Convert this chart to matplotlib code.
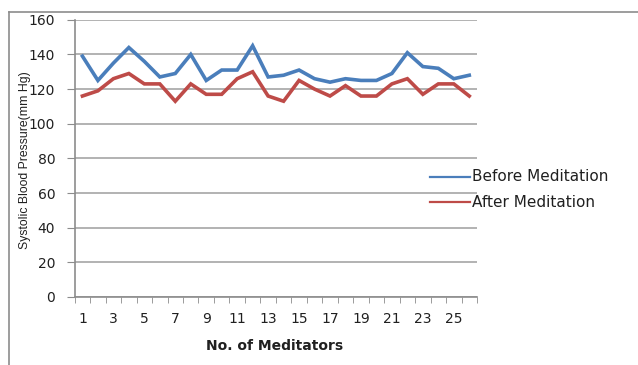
import numpy as np
import matplotlib
matplotlib.use('Agg')
import matplotlib.pyplot as plt
from matplotlib.lines import Line2D

# systolic readings per meditator
meditators = list(range(1, 27))
before = [139, 125, 135, 144, 136, 127, 129, 140, 125, 131, 131, 145, 127,
          128, 131, 126, 124, 126, 125, 125, 129, 141, 133, 132, 126, 128]
after = [116, 119, 126, 129, 123, 123, 113, 123, 117, 117, 126, 130, 116,
         113, 125, 120, 116, 122, 116, 116, 123, 126, 117, 123, 123, 116]
yticks = [0, 20, 40, 60, 80, 100, 120, 140, 160]
xlabels = [str(n) for n in meditators[::2]]

fig = plt.figure(figsize=(6.38, 3.65), dpi=100)
ax = fig.add_axes([74.7/638, 68/365, (477-74.7)/638, (297-19.8)/365])

ax.plot(meditators, before, color='#4a7ebb', lw=2.6, solid_joinstyle='miter')
ax.plot(meditators, after, color='#be4b48', lw=2.6, solid_joinstyle='miter')

ax.set_ylim(0, 160)
ax.set_yticks(yticks)
ax.set_xlim(0.5, 26.5)
ax.set_xticks(meditators[::2])
ax.set_xticklabels(xlabels)
ax.set_xticks(np.arange(0.5, 27, 1), minor=True)
ax.tick_params(axis='x', which='major', length=0, pad=11, labelsize=10, labelcolor='#202020')
ax.tick_params(axis='x', which='minor', length=4, color='#8c8c8c', direction='out')
ax.tick_params(axis='y', length=6, color='#8c8c8c', labelsize=10, labelcolor='#202020', pad=8)

ax.grid(axis='y', color='#a6a6a6', lw=1.2)
ax.set_axisbelow(True)
for s in ['top', 'right']:
    ax.spines[s].set_visible(False)
for s in ['left', 'bottom']:
    ax.spines[s].set_color('#8c8c8c')
    ax.spines[s].set_linewidth(1.2)

fig.text(25/638, 1-160/365, 'Systolic Blood Pressure(mm Hg)', rotation=90,
         ha='center', va='center', fontsize=8.8,
         family=['Liberation Sans', 'DejaVu Sans'], color='#202020')
fig.text(275/638, 1-346/365, 'No. of Meditators', ha='center', va='center',
         fontsize=10, fontweight='bold', color='#202020')

# legend drawn by hand to the right of the plot
for yy, col, name in [(176.7, '#4a7ebb', 'Before Meditation'),
                      (202.3, '#be4b48', 'After Meditation')]:
    fig.add_artist(Line2D([430/638, 470/638], [1-yy/365, 1-yy/365], color=col, lw=1.6))
    fig.text(472/638, 1-yy/365, name, ha='left', va='center', fontsize=11, color='#202020')

# outer frame
fig.add_artist(Line2D([9/638, 1], [1-11.5/365, 1-11.5/365], color='#8c8c8c', lw=1.2))
fig.add_artist(Line2D([9/638, 9/638], [0, 1-11.5/365], color='#8c8c8c', lw=1.2))

fig.savefig('out.png', dpi=100)
